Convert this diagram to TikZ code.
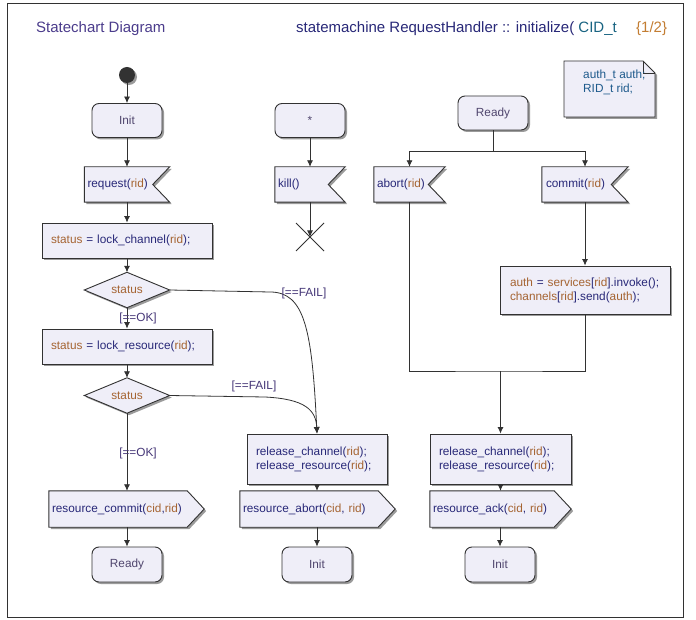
\documentclass[tikz,border=0pt]{standalone}
\usepackage{fontspec}
\setmainfont{Liberation Sans}
\usetikzlibrary{arrows.meta,shadows,backgrounds,calc}
\definecolor{cBlue}{RGB}{40,40,120}
\definecolor{cBrown}{RGB}{165,100,50}
\definecolor{cTitle}{RGB}{75,60,140}
\definecolor{cTeal}{RGB}{25,100,130}
\definecolor{cOrange}{RGB}{195,125,50}
\definecolor{cState}{RGB}{80,70,110}
\definecolor{cGuard}{RGB}{70,55,120}
\definecolor{cNote}{RGB}{30,90,140}
\definecolor{cLine}{RGB}{50,50,50}
\definecolor{cFill}{RGB}{239,238,248}
\definecolor{cShadow}{RGB}{155,155,155}
\newcommand{\vv}[1]{\textcolor{cBrown}{#1}}
\begin{document}
\begin{tikzpicture}[x=1pt,y=-1pt,
  base/.style={font=\fontsize{11.8}{14}\selectfont, text=cBlue, inner sep=0pt},
  shad/.style={drop shadow={shadow xshift=2pt, shadow yshift=-2pt, fill=cShadow, opacity=1}},
  outl/.style={draw=cLine, line width=0.9pt, fill=cFill, shad},
  statebox/.style={base, outl, rounded corners=7pt, minimum width=70pt, minimum height=34pt, text=cState},
  actbox/.style={base, outl, align=left, inner xsep=9pt, minimum height=35pt},
  sigbox/.style={base, align=left, inner xsep=3pt, minimum height=35pt},
  diabox/.style={base, minimum width=85pt, minimum height=35pt, text=cBrown},
  conn/.style={draw=cLine, line width=0.8pt},
  arr/.style={conn, -{Latex[length=6.5pt,width=6pt]}},
  guard/.style={base, text=cGuard},
  ttl/.style={base, font=\fontsize{15}{18}\selectfont},
]
\useasboundingbox (0,0) rectangle (696,620);

% titles
\node[ttl, text=cTitle, anchor=base west] (title) at (36,33) {Statechart Diagram};
\node[ttl, anchor=base east] (hdr) at (617,33) {statemachine RequestHandler :: initialize( \textcolor{cTeal}{CID\_t}};
\node[ttl, text=cOrange, anchor=base west] (page) at (636,33) {\{1/2\}};

% note
\node[base, text=cNote, align=left, anchor=west] (notetxt) at (583,82) {auth\_t auth;\\RID\_t rid;};

% left column
\node[circle, fill=cLine, minimum size=16pt, inner sep=0pt, shad] (start) at (127,75) {};
\node[statebox] (init1) at (127,120.5) {Init};
\node[sigbox, text width=79pt] (req) at (127,184.5) {request(\vv{rid})};
\node[actbox, text width=152pt] (lc) at (127,240.5) {\vv{status} = lock\_channel(\vv{rid});};
\node[diabox] (d1) at (127,290) {status};
\node[actbox, text width=152pt] (lr) at (127,346.5) {\vv{status} = lock\_resource(\vv{rid});};
\node[diabox] (d2) at (127,395.5) {status};
\node[sigbox, text width=149pt, minimum height=36pt] (rc) at (126.5,509) {resource\_commit(\vv{cid},\vv{rid})};
\node[statebox, minimum height=35pt] (ready1) at (127,564.5) {Ready};

% middle column
\node[statebox] (star) at (310,120.5) {*};
\node[sigbox, text width=64pt] (kill) at (310,184.5) {kill()};
\coordinate (term) at (310,237);
\node[actbox, text width=122pt, minimum height=50pt] (rel1) at (317,459) {release\_channel(\vv{rid});\\release\_resource(\vv{rid});};
\node[sigbox, text width=149pt, minimum height=36pt] (ra) at (317.5,509) {resource\_abort(\vv{cid}, \vv{rid})};
\node[statebox, minimum height=35pt] (init2) at (317,564.5) {Init};

% right column
\node[statebox] (ready2) at (493,113) {Ready};
\node[sigbox, text width=65pt] (abort) at (409.5,184.5) {abort(\vv{rid})};
\node[sigbox, text width=78pt, inner xsep=4pt] (commit) at (585,184.5) {commit(\vv{rid})};
\node[actbox, text width=150pt, inner xsep=10pt, minimum height=48pt] (auth) at (585,290) {\vv{auth} = \vv{services}[\vv{rid}].invoke();\\\vv{channels}[\vv{rid}].send(\vv{auth});};
\node[actbox, text width=123pt, minimum height=50pt] (rel2) at (500.5,459) {release\_channel(\vv{rid});\\release\_resource(\vv{rid});};
\node[sigbox, text width=135pt, minimum height=36pt] (ack) at (500.5,509) {resource\_ack(\vv{cid}, \vv{rid})};
\node[statebox, minimum height=35pt] (init3) at (500,564.5) {Init};

% background shapes
\begin{scope}[on background layer]
  \fill[white] (0,0) rectangle (696,620);
  \draw[cLine, line width=1pt] (7,4) rectangle (683,617);
  \foreach \n in {req,kill,abort,commit}{
    \path[outl] (\n.north west) -- (\n.north east) -- ([xshift=-17pt]\n.east) -- (\n.south east) -- (\n.south west) -- cycle;
  }
  \foreach \n in {rc,ra,ack}{
    \path[outl] (\n.north west) -- ([xshift=-17pt]\n.north east) -- (\n.east) -- ([xshift=-17pt]\n.south east) -- (\n.south west) -- cycle;
  }
  \foreach \n in {d1,d2}{
    \path[outl] (\n.north) -- (\n.east) -- (\n.south) -- (\n.west) -- cycle;
  }
  \path[outl] (564,61) -- (643,61) -- (655,73) -- (655,117) -- (564,117) -- cycle;
  \draw[cLine, line width=0.9pt] (643,61) -- (643,73) -- (655,73);
\end{scope}

% connectors left
\draw[arr] (start) -- (init1);
\draw[arr] (init1) -- (req);
\draw[arr] (req) -- (lc);
\draw[arr] (lc) -- (d1.north);
\draw[arr] (d1.south) -- (lr.north);
\node[guard] (ok1) at (138,318) {[==OK]};
\draw[arr] (lr) -- (d2.north);
\draw[arr] (d2.south) -- (rc.north -| d2.south);
\node[guard] (ok2) at (138,453) {[==OK]};
\draw[arr] (rc.south -| ready1.north) -- (ready1);

% connectors middle
\draw[arr] (star) -- (kill);
\draw[arr] (kill) -- (term);
\draw[conn] ($(term)+(-14,-14)$) -- ($(term)+(14,14)$);
\draw[conn] ($(term)+(14,-14)$) -- ($(term)+(-14,14)$);
\draw[arr] (d1.east) -- (270,292) .. controls (305,292) and (312,330) .. (rel1.north);
\node[guard] (fail1) at (304,293) {[==FAIL]};
\draw[arr] (d2.east) -- (265,397) .. controls (305,399) and (316,410) .. (rel1.north);
\node[guard] (fail2) at (254,386) {[==FAIL]};
\draw[arr] (rel1) -- (rel1 |- ra.north);
\draw[arr] (init2 |- ra.south) -- (init2);

% connectors right
\coordinate (fk) at (493,151);
\draw[conn] (ready2) -- (fk);
\draw[arr] (fk) -| (abort.north);
\draw[arr] (fk) -| (commit.north);
\draw[arr] (commit) -- (auth);
\coordinate (jn) at (500.5,371);
\draw[conn] (abort.south) |- (jn) -| (auth.south);
\draw[arr] (jn) -- (rel2);
\draw[arr] (rel2) -- (ack);
\draw[arr] (ack.south -| init3.north) -- (init3);
\end{tikzpicture}
\end{document}
